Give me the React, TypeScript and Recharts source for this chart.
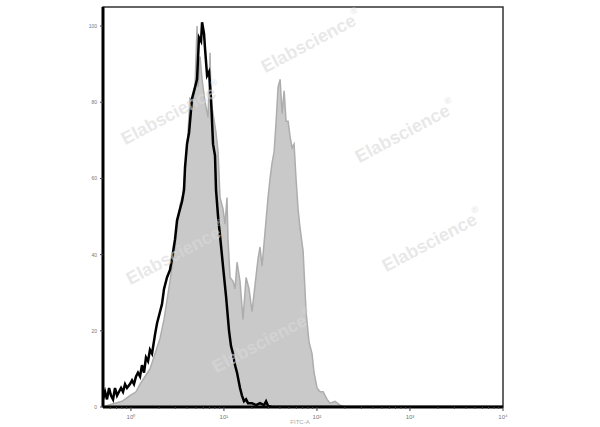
import React from "react";
import { ComposedChart, Area, Line, XAxis, YAxis, ReferenceArea } from "recharts";

// log10 channel position (decades) and event counts (% of max)
const grayExp = [
  -0.3, -0.246, -0.171, -0.096, -0.01, 0.055, 0.098, 0.152, 0.205, 0.259, 0.313, 0.356, 0.388, 0.42, 0.442,
  0.474, 0.496, 0.528, 0.56, 0.582, 0.614, 0.635, 0.668, 0.689, 0.711, 0.722, 0.743, 0.765, 0.797, 0.829,
  0.851, 0.861, 0.883, 0.915, 0.937, 0.958, 0.99, 1.012, 1.033, 1.044, 1.066, 1.098, 1.119, 1.141, 1.173,
  1.205, 1.238, 1.27, 1.302, 1.334, 1.367, 1.388, 1.41, 1.442, 1.474, 1.496, 1.517, 1.539, 1.561, 1.582,
  1.604, 1.625, 1.647, 1.668, 1.69, 1.711, 1.733, 1.754, 1.775, 1.797, 1.818, 1.851, 1.883, 1.915, 1.947,
  1.969, 2.001, 2.033, 2.066, 2.109, 2.141, 2.194, 2.248, 2.302, 4.0,
];
const grayCount = [
  0, 0.5, 1, 1.5, 3, 4, 6, 8, 10, 14, 18, 23, 28, 33, 37,
  42, 47, 53, 56, 62, 72, 81, 80, 84, 100, 84, 92, 86, 80, 76,
  93, 80, 77, 72, 67, 55, 52, 48, 55, 44, 34, 33, 31, 38, 33,
  23, 34, 31, 25, 32, 39, 42, 37, 46, 55, 60, 64, 67, 75, 84,
  86, 77, 83, 75, 75, 71, 68, 69, 60, 52, 47, 41, 25, 17, 14,
  9, 5, 4, 4, 2, 1, 1.5, 0.5, 0, 0,
];

const blackExp = [
  -0.3, -0.278, -0.257, -0.235, -0.214, -0.192, -0.171, -0.149, -0.128, -0.106, -0.085, -0.063, -0.042, -0.01,
  0.012, 0.033, 0.055, 0.076, 0.098, 0.119, 0.141, 0.162, 0.184, 0.205, 0.227, 0.259, 0.281, 0.313, 0.334,
  0.356, 0.388, 0.42, 0.442, 0.474, 0.496, 0.528, 0.55, 0.571, 0.582, 0.603, 0.625, 0.657, 0.679, 0.711,
  0.732, 0.754, 0.765, 0.786, 0.797, 0.819, 0.84, 0.861, 0.883, 0.904, 0.915, 0.937, 0.958, 0.99, 1.023,
  1.055, 1.076, 1.098, 1.119, 1.141, 1.173, 1.194, 1.216, 1.238, 1.259, 1.302, 1.345, 1.388, 1.431, 1.453,
  1.474, 1.517, 4.0,
];
const blackCount = [
  2, 4, 2, 5, 3, 2, 5, 3, 4, 5, 4, 6, 5, 6,
  7, 6, 8, 9, 8, 11, 9, 13, 12, 15, 14, 19, 22, 25, 27,
  31, 34, 36, 39, 44, 49, 52, 54, 57, 63, 69, 72, 81, 83, 86,
  97, 96, 101, 98, 94, 87, 88, 81, 69, 66, 57, 50, 45, 37, 29,
  20, 16, 14, 11, 9, 5, 3, 1.5, 2, 1, 1, 0.5, 1, 0.5, 1.5,
  0.3, 0, 0,
];

const yTicks = [0, 20, 40, 60, 80, 100];
const xMajor = [0, 1, 2, 3, 4];
const xTickLabels = ["10⁰", "10¹", "10²", "10³", "10⁴"];
const xAxisTitle = "FITC-A";
const watermarkWord = "Elabscience";
const watermarkMark = "®";
const watermarkSpots = [
  [172, 115],
  [312, 43],
  [406, 133],
  [177, 255],
  [433, 242],
  [263, 343],
];

const grayData = grayExp.map((x, i) => ({ x, v: grayCount[i] }));
const blackData = blackExp.map((x, i) => ({ x, v: blackCount[i] }));

const minorMult = [2, 3, 4, 5, 6, 7, 8, 9];
const xTicks: number[] = [];
[-1, 0, 1, 2, 3].forEach((d) => {
  if (d >= 0) xTicks.push(d);
  minorMult.forEach((m) => {
    const v = d + Math.log10(m);
    if (v >= -0.3 && v <= 4) xTicks.push(v);
  });
});
xTicks.push(4);

const XTick = (props: any) => {
  const { x, y, payload } = props;
  const v = payload.value;
  const idx = xMajor.findIndex((m) => Math.abs(m - v) < 1e-6);
  const major = idx >= 0;
  return (
    <g>
      <line x1={x} x2={x} y1={y} y2={y + (major ? 4 : 2)} stroke="#444" strokeWidth={1} />
      {major && (
        <text x={x} y={y + 12} textAnchor="middle" fontSize={6} fill="#777" fontFamily="Liberation Sans, Arial, sans-serif">
          {xTickLabels[idx]}
        </text>
      )}
    </g>
  );
};

const YTick = (props: any) => {
  const { x, y, payload } = props;
  return (
    <g>
      <line x1={x - 3} x2={x} y1={y} y2={y} stroke="#444" strokeWidth={1} />
      <text x={x - 6} y={y + 2} textAnchor="end" fontSize={5} fill="#777" fontFamily="Liberation Sans, Arial, sans-serif">
        {payload.value}
      </text>
    </g>
  );
};

export default function App() {
  return (
    <div style={{ position: "absolute", left: 0, top: 0, width: 600, height: 427, background: "#fff", overflow: "hidden" }}>
      <ComposedChart width={600} height={427} margin={{ top: 7, right: 97, bottom: 0, left: 73 }}>
        <XAxis
          type="number"
          dataKey="x"
          domain={[-0.3, 4]}
          ticks={xTicks}
          interval={0}
          allowDataOverflow
          height={20}
          tickSize={0}
          tickMargin={0}
          tickLine={false}
          tick={<XTick />}
          axisLine={{ stroke: "#000", strokeWidth: 3 }}
        />
        <YAxis
          type="number"
          domain={[0, 105]}
          ticks={yTicks}
          interval={0}
          allowDataOverflow
          width={30}
          tickSize={0}
          tickMargin={0}
          tickLine={false}
          tick={<YTick />}
          axisLine={{ stroke: "#000", strokeWidth: 3 }}
        />
        <ReferenceArea x1={-0.3} x2={4} y1={0} y2={105} fill="none" stroke="#333" strokeWidth={1.5} />
        <Area
          data={grayData}
          dataKey="v"
          type="linear"
          fill="#c9c9c9"
          fillOpacity={1}
          stroke="#adadad"
          strokeWidth={1.5}
          isAnimationActive={false}
          dot={false}
          activeDot={false}
        />
        <Line
          data={blackData}
          dataKey="v"
          type="linear"
          stroke="#000"
          strokeWidth={2.5}
          isAnimationActive={false}
          dot={false}
          activeDot={false}
        />
      </ComposedChart>
      <svg width={600} height={427} style={{ position: "absolute", left: 0, top: 0, pointerEvents: "none" }}>
        {watermarkSpots.map(([cx, cy], i) => (
          <text
            key={i}
            x={cx}
            y={cy}
            textAnchor="middle"
            dominantBaseline="middle"
            fontSize={18}
            fontWeight="bold"
            fontFamily="Liberation Sans, Arial, sans-serif"
            fill="#d9d9d9"
            fillOpacity={0.6}
            transform={`rotate(-28 ${cx} ${cy})`}
          >
            {watermarkWord}
            <tspan fontSize={9} dy={-8}>{watermarkMark}</tspan>
          </text>
        ))}
        <text x={300} y={424} textAnchor="middle" fontSize={6} fill="#aaa" fontFamily="Liberation Sans, Arial, sans-serif">
          {xAxisTitle}
        </text>
      </svg>
    </div>
  );
}
